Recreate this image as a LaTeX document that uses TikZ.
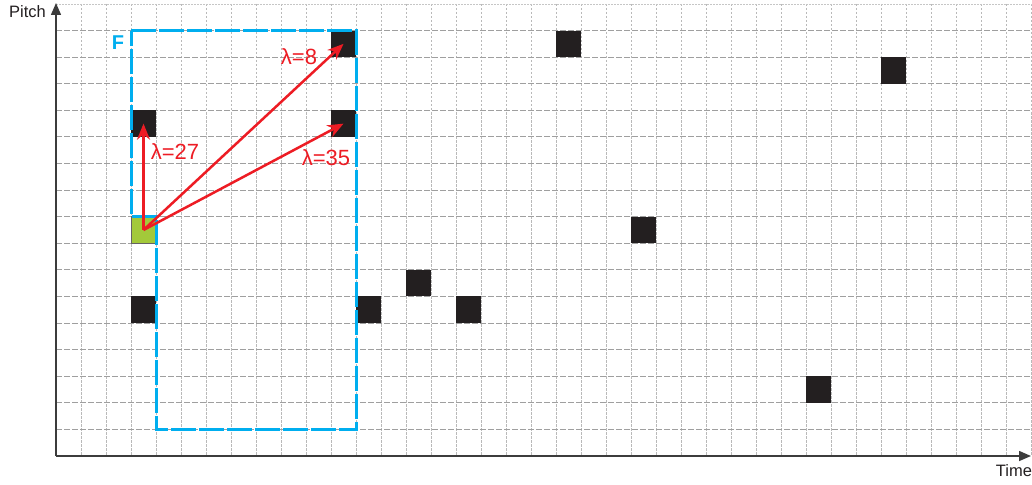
\documentclass[tikz,border=0pt]{standalone}
\usepackage{fontspec}
\setmainfont{Liberation Sans}
\usetikzlibrary{arrows.meta}
\definecolor{fcyan}{RGB}{0,174,239}
\definecolor{cellblack}{RGB}{35,31,32}
\definecolor{cellgreen}{RGB}{163,201,58}
\definecolor{arrred}{RGB}{237,28,36}
\definecolor{axisgray}{RGB}{60,60,60}
\tikzset{
  vgrid/.style={draw=gray!55, line width=0.9pt, dash pattern=on 2.5pt off 1.5pt},
  hgrid/.style={draw=gray!75, line width=0.9pt, dash pattern=on 6pt off 2pt},
  cellbox/.style={fill=cellblack, draw=none, minimum width=25pt, minimum height=26.6pt, inner sep=0pt, outer sep=0pt},
  greenbox/.style={fill=cellgreen, draw=cellblack!70, line width=0.6pt, minimum width=25pt, minimum height=26.6pt, inner sep=0pt, outer sep=0pt},
  fbox/.style={draw=fcyan, line width=3pt, dash pattern=on 25pt off 3pt},
  lamarrow/.style={draw=arrred, line width=2.5pt, -{Stealth[length=16pt,width=13pt]}},
  lamlabel/.style={text=arrred, font=\fontsize{22}{26}\selectfont, inner sep=0pt},
  axis/.style={draw=axisgray, line width=1.5pt, -{Triangle[length=12pt,width=10pt]}},
  axislabel/.style={text=cellblack, font=\fontsize{16.5}{19}\selectfont, inner sep=0pt}
}
\begin{document}
\begin{tikzpicture}[x=1pt,y=-1pt]
\useasboundingbox (0,0) rectangle (1032,484);
% grid
\foreach \k in {1,...,39} \draw[vgrid] ({56+25*\k},4) -- ({56+25*\k},456);
\draw[draw=gray!45, line width=0.9pt, dash pattern=on 1.5pt off 1.5pt] (56,4) -- (1032,4);
\foreach \t in {1,...,16} \draw[hgrid] (56,{4+26.588*\t}) -- (1032,{4+26.588*\t});
% cells
\node[cellbox] (a1) at ({68.5+25*3},{17.294+26.588*4}) {};
\node[cellbox] (a2) at ({68.5+25*3},{17.294+26.588*11}) {};
\node[cellbox] (a3) at ({68.5+25*11},{17.294+26.588*1}) {};
\node[cellbox] (a4) at ({68.5+25*11},{17.294+26.588*4}) {};
\node[cellbox] (a5) at ({68.5+25*12},{17.294+26.588*11}) {};
\node[cellbox] (a6) at ({68.5+25*14},{17.294+26.588*10}) {};
\node[cellbox] (a7) at ({68.5+25*16},{17.294+26.588*11}) {};
\node[cellbox] (a8) at ({68.5+25*20},{17.294+26.588*1}) {};
\node[cellbox] (a9) at ({68.5+25*23},{17.294+26.588*8}) {};
\node[cellbox] (a10) at ({68.5+25*30},{17.294+26.588*14}) {};
\node[cellbox] (a11) at ({68.5+25*33},{17.294+26.588*2}) {};
\node[greenbox] (g) at ({68.5+25*3},{17.294+26.588*8}) {};
% axes
\coordinate (o) at (56,456);
\coordinate (xend) at (1031,456);
\coordinate (yend) at (56,3);
\draw[axis] (o) -- (xend);
\draw[axis] (o) -- (yend);
\node[axislabel, anchor=east] (pitch) at (46,12) {Pitch};
\node[axislabel] (time) at (1014,471) {Time};
% F box
\draw[fbox] (131,30.6) -- (356,30.6) -- (356,429.4) -- (156,429.4) -- (156,216.7) -- (131,216.7) -- cycle;
\node[text=fcyan, font=\fontsize{20}{24}\selectfont\bfseries, inner sep=0pt] (flabel) at (118,43) {F};
% arrows
\draw[lamarrow] (g.center) -- (a1.center);
\draw[lamarrow] (g.center) -- (a3.center);
\draw[lamarrow] (g.center) -- (a4.center);
\node[lamlabel] (l27) at (175,152) {λ=27};
\node[lamlabel] (l35) at (326,158) {λ=35};
\node[lamlabel] (l8) at (299,57) {λ=8};
\end{tikzpicture}
\end{document}
